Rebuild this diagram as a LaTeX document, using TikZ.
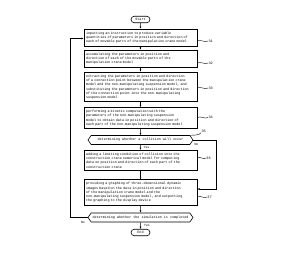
\documentclass[tikz,border=0pt]{standalone}
\usepackage{fontspec}
\newfontfamily\flowfont{Liberation Mono}
\usetikzlibrary{shapes.symbols,shapes.misc,arrows.meta}

\begin{document}
\begin{tikzpicture}[
    x=1pt, y=-1pt,
    box/.style={rectangle, draw, line width=0.7pt, text width=109pt, inner xsep=2pt, inner ysep=2.5pt, align=left, font=\flowfont\fontsize{3.4}{4.3}\selectfont},
    term/.style={rounded rectangle, draw, line width=0.6pt, minimum width=20pt, minimum height=6.5pt, inner sep=0.5pt, font=\flowfont\fontsize{3.4}{4}\selectfont},
    decide/.style={signal, signal to=west and east, signal pointer angle=110, draw, line width=0.6pt, minimum width=105pt, minimum height=9pt, inner sep=0.5pt, font=\flowfont\fontsize{3.4}{4}\selectfont},
    flow/.style={-{Latex[length=2.2pt,width=1.8pt]}, line width=0.5pt},
    refnum/.style={anchor=west, inner sep=0.3pt, font=\flowfont\fontsize{3.6}{4}\selectfont},
    lead/.style={line width=0.4pt},
    answer/.style={inner sep=0.3pt, font=\flowfont\fontsize{3.2}{4}\selectfont}
]
\useasboundingbox (0,0) rectangle (282,254);

% ===== Terminals =====
\node[term] (start) at (140.5,19.5) {Start};
\node[term] (stop) at (140.5,232.5) {End};

% ===== Steps =====
\node[box] (b1) at (140.5,37.5) {inputting an instruction to produce variable\\quantities of parameters in position and direction of\\each of movable parts of the manipulation crane model};
\node[box] (b2) at (140.5,58.5) {accumulating the parameters in position and\\direction of each of the movable parts of the\\manipulation crane model};
\node[box] (b3) at (140.5,87) {extracting the parameters in position and direction\\of a connection point between the manipulation crane\\model and the non-manipulating suspension model, and\\substituting the parameters in position and direction\\of the connection point into the non-manipulating\\suspension model};
\node[box] (b4) at (140.5,118) {performing a kinetic computation with the\\parameters of the non-manipulating suspension\\model to obtain data in position and direction of\\each part of the non-manipulating suspension model};
\node[decide] (d1) at (140.5,140) {determining whether a collision will occur};
\node[box] (b5) at (140.5,160.5) {adding a limiting condition of collision into the\\construction crane numerical model for computing\\data on position and direction of each part of the\\construction crane};
\node[box] (b6) at (140.5,192.5) {providing a graphing of three-dimensional dynamic\\images based on the data in position and direction\\of the manipulation crane model and the\\non-manipulating suspension model, and outputting\\the graphing to the display device};
\node[decide] (d2) at (140.5,217.5) {determining whether the simulation is completed};

% ===== Main flow =====
\draw[flow] (start) -- (b1);
\draw[flow] (b1) -- (b2);
\draw[flow] (b2) -- (b3);
\draw[flow] (b3) -- (b4);
\draw[flow] (b4) -- (d1);
\draw[flow] (d1) -- (b5);
\draw[flow] (b5) -- (b6);
\draw[flow] (b6) -- (d2);
\draw[flow] (d2) -- (stop);

% ===== Loops =====
\coordinate (loopR) at (216,189);
\coordinate (loopL) at (70,38.5);
\draw[flow] (d1.east) -| (loopR) -- (loopR -| b6.east);
\draw[flow] (d2.west) -| (loopL) -- (loopL -| b1.west);

\node[answer] (no1) at (196.5,144.5) {No};
\node[answer] (yes1) at (146.5,147) {Yes};
\node[answer] (no2) at (83,222.5) {No};
\node[answer] (yes2) at (147,225) {Yes};

% ===== Reference numerals =====
\node[refnum] (r31) at (208,41) {31};
\node[refnum] (r32) at (208,63) {32};
\node[refnum] (r33) at (208,88) {33};
\node[refnum] (r34) at (208,117.5) {34};
\node[refnum] (r35) at (201,131) {35};
\node[refnum] (r36) at (206,158) {36};
\node[refnum] (r37) at (207,197) {37};

\foreach \b/\r in {b1/r31, b2/r32, b3/r33, b4/r34, b5/r36, b6/r37}
  \draw[lead] (\b.east |- \r.west) .. controls +(3,-2) and +(-3,2) .. (\r.west);
\draw[lead] ([xshift=-3pt]d1.north east) .. controls +(4,0) and +(-1,3) .. (r35.south west);

\end{tikzpicture}
\end{document}
